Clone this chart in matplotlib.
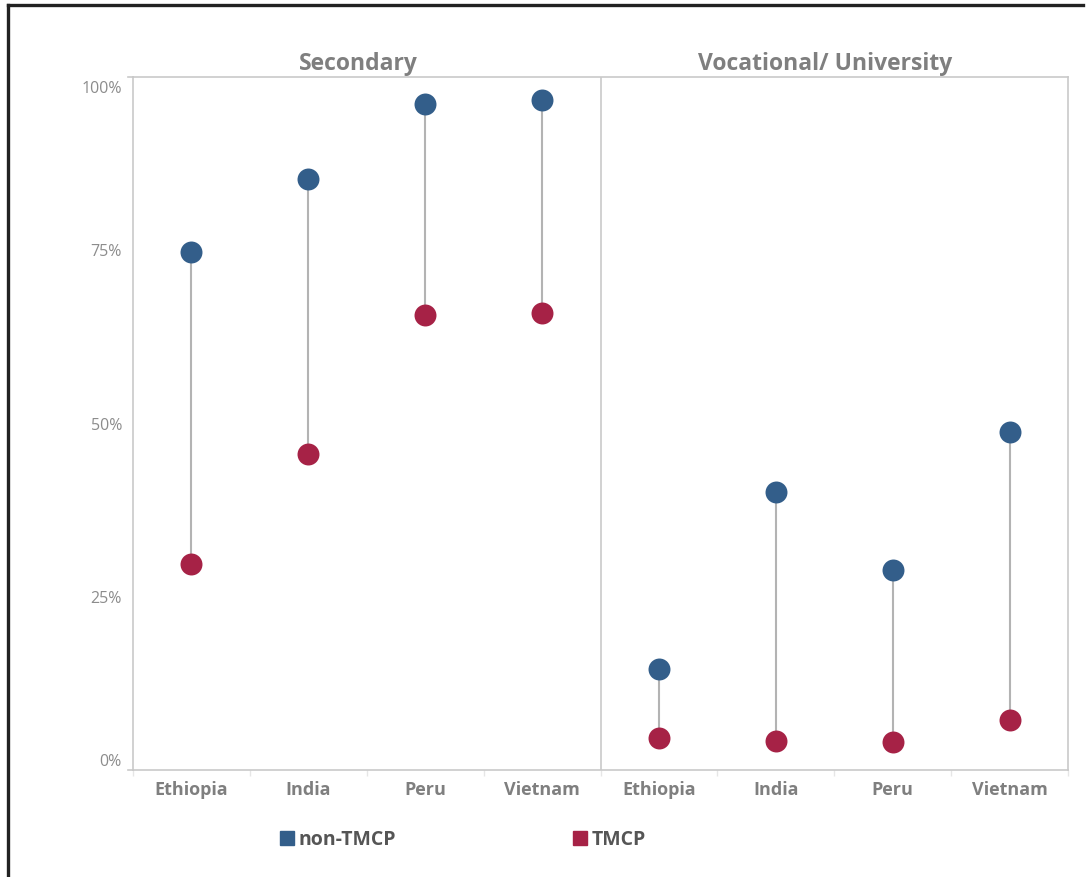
import matplotlib
matplotlib.use("Agg")
import matplotlib.pyplot as plt
from matplotlib.lines import Line2D
from matplotlib.transforms import blended_transform_factory, ScaledTranslation

plt.rcParams["font.family"] = ["Open Sans", "DejaVu Sans"]

# Share of children enrolled, by country and programme group
countries = ["Ethiopia", "India", "Peru", "Vietnam"]
panels = ["Secondary", "Vocational/ University"]
secondary_non_tmcp = [74.7, 85.3, 96.1, 96.7]
secondary_tmcp = [29.7, 45.6, 65.7, 65.9]
vocational_non_tmcp = [14.6, 40.1, 28.9, 48.8]
vocational_tmcp = [4.6, 4.2, 4.0, 7.2]
y_ticks = [0, 25, 50, 75, 100]
y_tick_labels = ["0%", "25%", "50%", "75%", "100%"]
series_names = ["non-TMCP", "TMCP"]

BLUE = "#335E8A"
RED = "#A62246"
FRAME = "#C9C9C9"
STEM = "#B3B3B3"

W, H = 1088, 877
fig = plt.figure(figsize=(W / 100, H / 100), dpi=100)
fig.patch.set_facecolor("white")

# outer border (top and left edges)
fig.add_artist(Line2D([8 / W, 1083 / W], [1 - 5 / H, 1 - 5 / H],
                      transform=fig.transFigure, color="#222222", lw=2.4))
fig.add_artist(Line2D([8 / W, 8 / W], [1 - 5 / H, 0],
                      transform=fig.transFigure, color="#222222", lw=2.4))

left, right, top, bottom = 133, 1068, 77, 770
ax = fig.add_axes([left / W, 1 - bottom / H, (right - left) / W, (bottom - top) / H])
ax.set_xlim(0, 8)
ax.set_ylim(0, 100)

non_tmcp = secondary_non_tmcp + vocational_non_tmcp
tmcp = secondary_tmcp + vocational_tmcp
xs = [i + 0.5 for i in range(len(non_tmcp))]

ax.vlines(xs, tmcp, non_tmcp, color=STEM, lw=1.5, zorder=2)
ax.scatter(xs, non_tmcp, s=250, color=BLUE, zorder=3, linewidths=0)
ax.scatter(xs, tmcp, s=250, color=RED, zorder=3, linewidths=0)

# frame and panel divider
for sp in ax.spines.values():
    sp.set_color(FRAME)
    sp.set_linewidth(1.2)
ax.axvline(4, color=FRAME, lw=1.2, zorder=1)

# small extensions of the frame past the value axis
ext = 5 / (right - left) * 8
for yv in (0, 100):
    ax.plot([-ext, 0], [yv, yv], color=FRAME, lw=1.2, clip_on=False)

# category axis
ax.set_xticks(xs)
ax.set_xticklabels(countries * 2, fontsize=13, fontweight="bold", color="#7F7F7F")
ax.tick_params(axis="x", which="major", length=0, pad=8)
ax.set_xticks(range(9), minor=True)
ax.tick_params(axis="x", which="minor", length=4, color="#E6E6E6", width=1)

# value axis
ax.set_yticks(y_ticks)
ax.set_yticklabels(y_tick_labels, fontsize=11.5, color="#8C8C8C")
ax.tick_params(axis="y", length=0, pad=8)
ylabels = ax.get_yticklabels()
ylabels[0].set_va("bottom")
ylabels[-1].set_va("top")
ylabels[-1].set_transform(ylabels[-1].get_transform()
                          + ScaledTranslation(0, -4 / 100, fig.dpi_scale_trans))

# panel headers
hdr = blended_transform_factory(ax.transData, ax.transAxes)
ax.text(1.93, 1.019, panels[0], transform=hdr, ha="center", va="center",
        fontsize=16.5, fontweight="bold", color="#7F7F7F")
ax.text(5.92, 1.019, panels[1], transform=hdr, ha="center", va="center",
        fontsize=16.5, fontweight="bold", color="#7F7F7F")

# legend
handles = [Line2D([], [], marker="s", ls="none", color=BLUE, markersize=10.5),
           Line2D([], [], marker="s", ls="none", color=RED, markersize=10.5)]
leg = fig.legend(handles, series_names, loc="center left",
                 bbox_to_anchor=(281 / W, 1 - 840 / H), ncol=2, frameon=False,
                 borderpad=0, borderaxespad=0, handlelength=0.6, handletextpad=0.3,
                 columnspacing=9.15, prop={"size": 14, "weight": "bold"})
for t in leg.get_texts():
    t.set_color("#555555")

fig.savefig("out.png", dpi=100, facecolor="white")
